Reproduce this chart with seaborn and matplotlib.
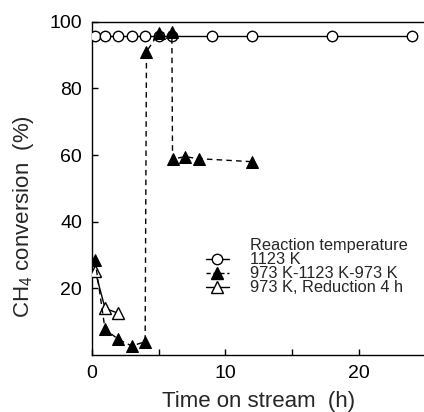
import matplotlib
matplotlib.use("Agg")
import matplotlib.pyplot as plt
import seaborn as sns
import pandas as pd
from matplotlib.lines import Line2D

# ---- data ----
t_1123 = [0.25, 1, 2, 3, 4, 5, 6, 9, 12, 18, 24]
conv_1123 = [95.6, 95.6, 95.6, 95.6, 95.6, 95.6, 95.6, 95.6, 95.6, 95.6, 95.6]

t_cycle = [0.25, 1, 2, 3, 4, 4.1, 5, 6, 6.05, 7, 8, 12]
conv_cycle = [28.5, 7.7, 4.7, 2.7, 4.0, 91.0, 96.5, 96.9, 58.8, 59.5, 58.9, 58.0]

t_red = [0.25, 1, 2]
conv_red = [25.3, 14.0, 12.5]

labels = ["1123 K", "973 K-1123 K-973 K", "973 K, Reduction 4 h"]
legend_title = "Reaction temperature"
x_ticks = [0, 10, 20]
x_minor = [5, 15]
y_ticks = [20, 40, 60, 80, 100]

sns.set_style("ticks")
plt.rcParams["font.family"] = ["Liberation Sans", "DejaVu Sans"]
plt.rcParams["mathtext.fontset"] = "custom"
plt.rcParams["mathtext.rm"] = "Liberation Sans"
plt.rcParams["mathtext.it"] = "Liberation Sans:italic"
plt.rcParams["mathtext.bf"] = "Liberation Sans:bold"

fig = plt.figure(figsize=(4.24, 4.12), dpi=100)
W, H = 424, 412
ax = fig.add_axes([91.7 / W, (H - 355) / H, 334 / W, 333.3 / H])

df1 = pd.DataFrame({"t": t_1123, "c": conv_1123})
df2 = pd.DataFrame({"t": t_cycle, "c": conv_cycle})
df3 = pd.DataFrame({"t": t_red, "c": conv_red})

sns.lineplot(data=df3, x="t", y="c", ax=ax, sort=False, estimator=None,
             color="black", linewidth=1.0, marker="^", markersize=8.5,
             markerfacecolor="white", markeredgecolor="black", markeredgewidth=1.0,
             zorder=3)
sns.lineplot(data=df2, x="t", y="c", ax=ax, sort=False, estimator=None,
             color="black", linewidth=1.0, linestyle=(0, (4, 3)), marker="^",
             markersize=8.5, markerfacecolor="black", markeredgecolor="black",
             zorder=4)
sns.lineplot(data=df1, x="t", y="c", ax=ax, sort=False, estimator=None,
             color="black", linewidth=1.0, marker="o", markersize=7.5,
             markerfacecolor="white", markeredgecolor="black", markeredgewidth=1.0,
             zorder=3)

ax.set_xlim(0, 25)
ax.set_ylim(0, 100)
ax.set_xticks(x_ticks)
ax.set_xticks(x_minor, minor=True)
ax.set_yticks(y_ticks)
ax.tick_params(axis="both", which="both", direction="in", length=4, width=1,
               labelsize=14, pad=7, top=False, right=False, color="black",
               labelcolor="black")
for s in ax.spines.values():
    s.set_linewidth(1.0)
    s.set_color("black")

ax.set_xlabel("Time on stream  (h)", fontsize=16, labelpad=7)
ax.set_ylabel("CH$_4$ conversion  (%)", fontsize=16)
ax.yaxis.set_label_coords(-0.168, 0.414)

handles = [
    Line2D([], [], linestyle="none", marker=None),
    Line2D([], [], color="black", linewidth=1.0, marker="o", markersize=7.5,
           markerfacecolor="white", markeredgecolor="black"),
    Line2D([], [], color="black", linewidth=1.0, linestyle=(0, (3, 2)), marker="^",
           markersize=8.5, markerfacecolor="black", markeredgecolor="black"),
    Line2D([], [], color="black", linewidth=1.0, marker="^", markersize=8.5,
           markerfacecolor="white", markeredgecolor="black"),
]
leg = ax.legend(handles, [legend_title] + labels, loc="upper left",
                bbox_to_anchor=(0.342, 0.35), frameon=False, fontsize=11.8,
                handlelength=1.4, handletextpad=1.3, labelspacing=-0.06,
                borderpad=0, borderaxespad=0)

fig.savefig("out.png", dpi=100, facecolor="white")
